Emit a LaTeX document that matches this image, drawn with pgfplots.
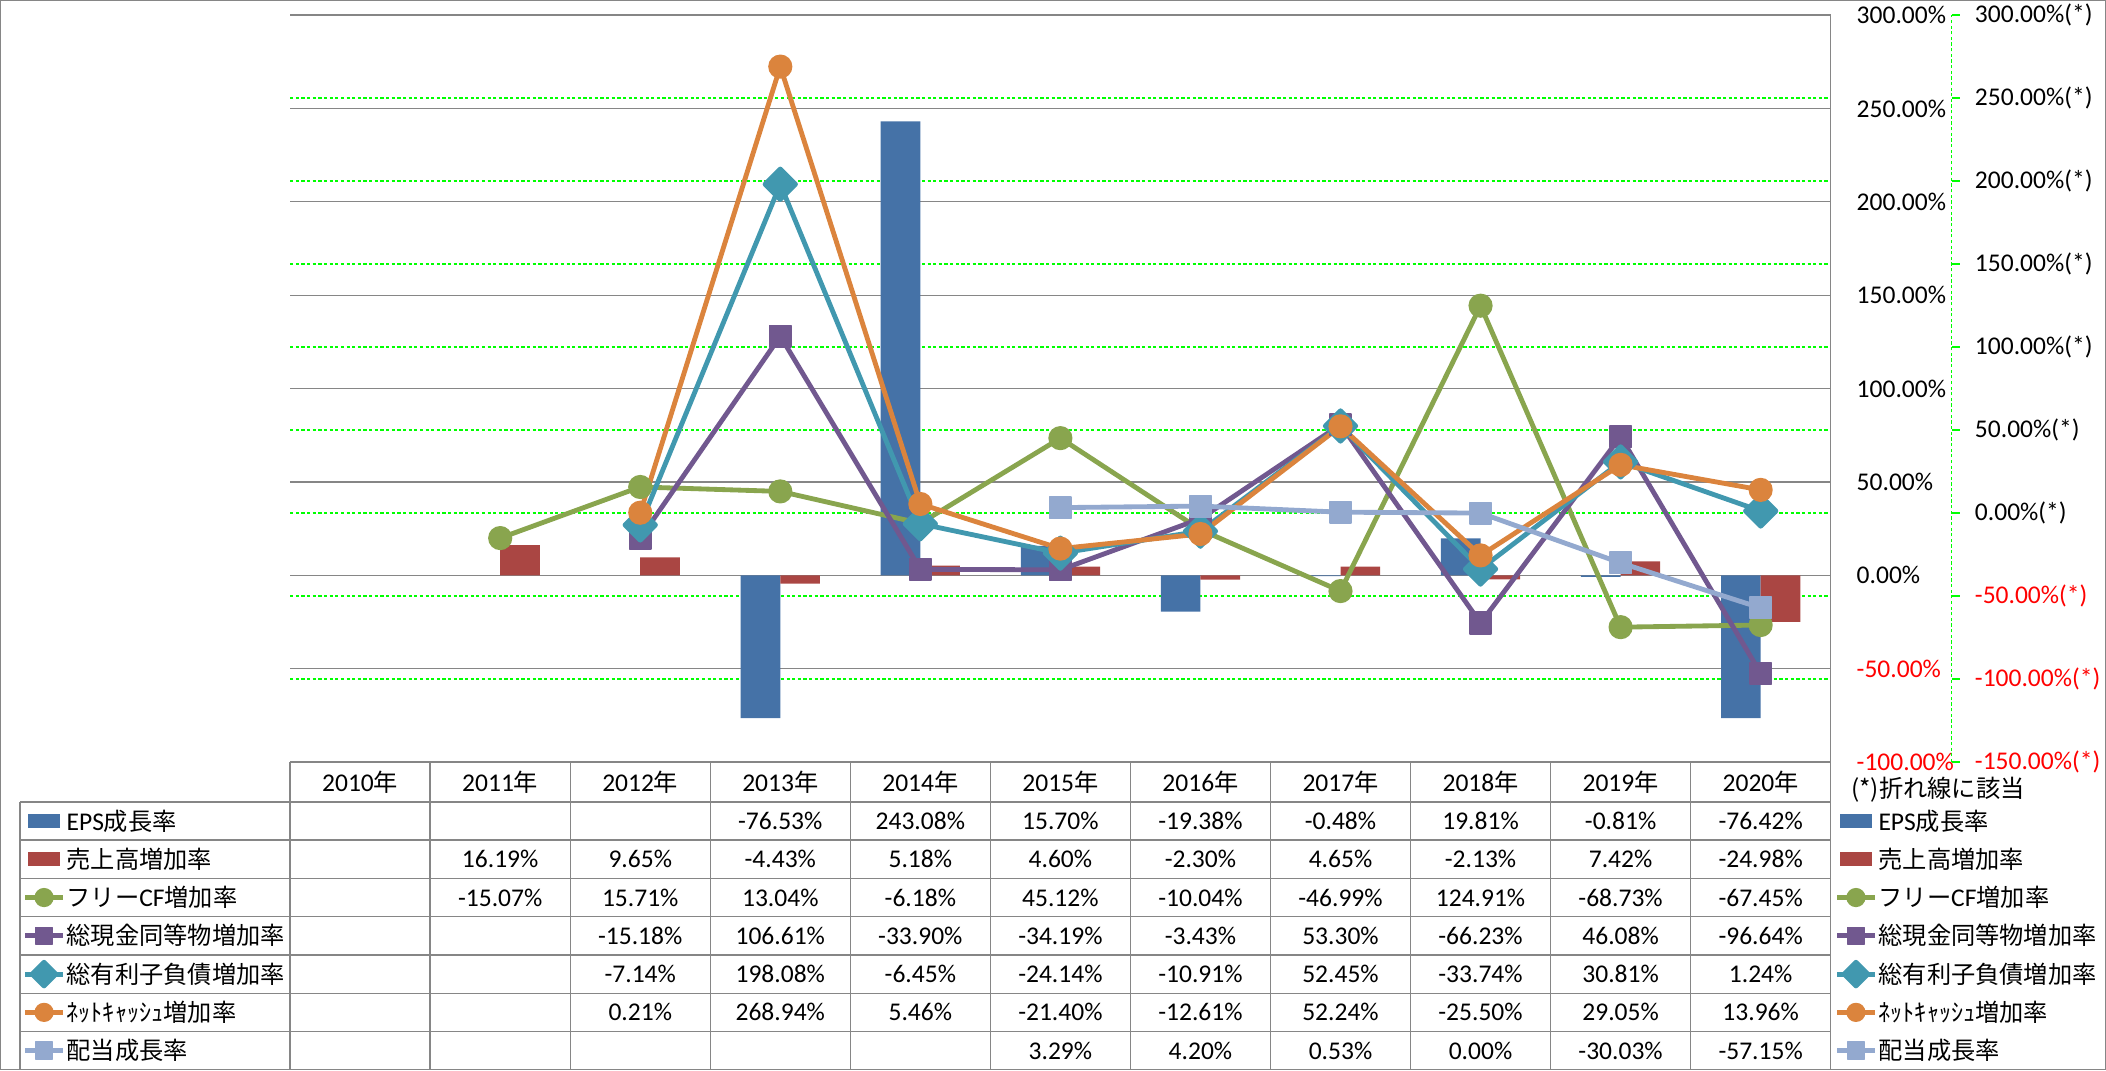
\documentclass[border=0pt]{standalone}
\usepackage{pgfplots}
\pgfplotsset{compat=1.18}
\usepackage{fontspec}
\setmainfont{Carlito}
\newfontfamily\jp[Scale=0.95]{Noto Sans CJK JP}
\definecolor{cEPS}{HTML}{4572A7}
\definecolor{cSales}{HTML}{AA4643}
\definecolor{cFCF}{HTML}{89A54E}
\definecolor{cCash}{HTML}{71588F}
\definecolor{cDebt}{HTML}{4198AF}
\definecolor{cNet}{HTML}{DB843D}
\definecolor{cDiv}{HTML}{93A9CF}
\definecolor{gridgray}{HTML}{868686}
\definecolor{tgreen}{HTML}{00FF00}
\definecolor{tred}{HTML}{FF0000}
\newcommand\ff{\fontsize{9.5pt}{11.4pt}\selectfont}
\pgfplotsset{
  base/.style={scale only axis, width=573.5pt, height=278.1pt, at={(108pt,114.8pt)}, anchor=south west, xmin=-0.5, xmax=10.5, tick label style={font=\ff}},
  barleg/.style={legend image code/.code={\fill[##1, draw=none] (1pt,-2.6pt) rectangle (13pt,2.6pt);}},
  sline/.style={line width=1.8pt, line join=round, mark options={solid, line width=0.6pt, line join=round}},
  sFCF/.style={sline, color=cFCF, mark=*, mark size=4.2pt},
  sCash/.style={sline, color=cCash, mark=square*, mark size=4.0pt},
  sDebt/.style={sline, color=cDebt, mark=square*, mark size=4.0pt, mark options={rotate=45}},
  sNet/.style={sline, color=cNet, mark=*, mark size=4.2pt},
  sDiv/.style={sline, color=cDiv, mark=square*, mark size=4.0pt},
  legstyle/.style={legend style={anchor=north west, draw=none, fill=none, inner sep=0pt, outer sep=0pt, row sep=0pt, column sep=0.5pt, font=\ff, nodes={inner sep=0pt, text height=10.5pt, text depth=3.75pt}}, legend cell align=left,
     legend image code/.code={\draw[mark repeat=2,mark phase=2,##1, every mark/.append style={scale=0.78}] plot coordinates {(0pt,0pt) (7pt,0pt) (14pt,0pt)};}},
}
\begin{document}
\begin{tikzpicture}[font=\ff]
% green secondary grid (background)
\begin{axis}[base, ymin=-150, ymax=300, ytick={-100,-50,...,250}, yticklabels={,,,,,,,,,}, xtick=\empty, major tick length=0pt,
  axis line style={draw=none}, ymajorgrids, major grid style={tgreen, dash pattern=on 1.2pt off 0.9pt, line width=0.45pt}]
\end{axis}
% primary axis with bars
\begin{axis}[base, ymin=-100, ymax=300, ytick={-100,-50,...,300},
  yticklabels={\textcolor{tred}{-100.00\%},\textcolor{tred}{-50.00\%},0.00\%,50.00\%,100.00\%,150.00\%,200.00\%,250.00\%,300.00\%},
  axis x line=none, axis y line*=right, y axis line style={gridgray, line width=0.5pt},
  major tick length=0pt,
  yticklabel style={anchor=west, inner sep=0pt, xshift=9.5pt},
  ymajorgrids, major grid style={gridgray, line width=0.5pt},
  ybar=0pt, bar width=14.75pt]
\addplot[fill=cEPS, draw=none] coordinates {(3,-76.53) (4,243.08) (5,15.70) (6,-19.38) (7,-0.48) (8,19.81) (9,-0.81) (10,-76.42)};
\addplot[fill=cSales, draw=none] coordinates {(1,16.19) (2,9.65) (3,-4.43) (4,5.18) (5,4.60) (6,-2.30) (7,4.65) (8,-2.13) (9,7.42) (10,-24.98)};
\end{axis}
% lines on secondary scale
\begin{axis}[base, ymin=-150, ymax=300, hide axis, clip=false, legstyle,
  legend style={at={(axis description cs:1.00262,-0.05322)}}]
\addlegendimage{barleg, fill=cEPS}\addlegendentry{EPS{\jp 成長率}}
\addlegendimage{barleg, fill=cSales}\addlegendentry{{\jp 売上高増加率}}
\addplot[sFCF] coordinates {(1,-15.07) (2,15.71) (3,13.04) (4,-6.18) (5,45.12) (6,-10.04) (7,-46.99) (8,124.91) (9,-68.73) (10,-67.45)};
\addlegendentry{{\jp フリー}CF{\jp 増加率}}
\addplot[sCash] coordinates {(2,-15.18) (3,106.61) (4,-33.90) (5,-34.19) (6,-3.43) (7,53.30) (8,-66.23) (9,46.08) (10,-96.64)};
\addlegendentry{{\jp 総現金同等物増加率}}
\addplot[sDebt] coordinates {(2,-7.14) (3,198.08) (4,-6.45) (5,-24.14) (6,-10.91) (7,52.45) (8,-33.74) (9,30.81) (10,1.24)};
\addlegendentry{{\jp 総有利子負債増加率}}
\addplot[sNet] coordinates {(2,0.21) (3,268.94) (4,5.46) (5,-21.40) (6,-12.61) (7,52.24) (8,-25.50) (9,29.05) (10,13.96)};
\addlegendentry{{\jp ﾈｯﾄｷｬｯｼｭ増加率}}
\addplot[sDiv] coordinates {(5,3.29) (6,4.20) (7,0.53) (8,0.00) (9,-30.03) (10,-57.15)};
\addlegendentry{{\jp 配当成長率}}
\end{axis}
% secondary scale
\begin{axis}[scale only axis, width=10pt, height=278.1pt, at={(716.5pt,114.8pt)}, anchor=south west,
  xmin=0, xmax=1, ymin=-150, ymax=300,
  axis x line=none, axis y line*=right, y axis line style={tgreen, dash pattern=on 1.2pt off 0.9pt, line width=0.45pt},
  ytick={-150,-100,...,300}, tick align=outside, major tick length=3pt, tick style={tgreen, line width=0.45pt},
  yticklabels={\textcolor{tred}{-150.00\%(*)},\textcolor{tred}{-100.00\%(*)},\textcolor{tred}{-50.00\%(*)},0.00\%(*),50.00\%(*),100.00\%(*),150.00\%(*),200.00\%(*),250.00\%(*),300.00\%(*)},
  yticklabel style={anchor=west, inner sep=0pt, xshift=5.5pt, font=\ff}]
\end{axis}
% legend keys inside the table
\begin{axis}[base, ymin=-150, ymax=300, hide axis, legstyle,
  legend style={at={(axis description cs:-0.17349,-0.05322)}}]
\addlegendimage{barleg, fill=cEPS}\addlegendentry{EPS{\jp 成長率}}
\addlegendimage{barleg, fill=cSales}\addlegendentry{{\jp 売上高増加率}}
\addlegendimage{sFCF}\addlegendentry{{\jp フリー}CF{\jp 増加率}}
\addlegendimage{sCash}\addlegendentry{{\jp 総現金同等物増加率}}
\addlegendimage{sDebt}\addlegendentry{{\jp 総有利子負債増加率}}
\addlegendimage{sNet}\addlegendentry{{\jp ﾈｯﾄｷｬｯｼｭ増加率}}
\addlegendimage{sDiv}\addlegendentry{{\jp 配当成長率}}
\end{axis}
% data table
\begin{scope}[gridgray, line width=0.5pt]
\foreach \y in {100,85.75,71.5,57.25,43,28.75,14.5,0.25} \draw (7.5pt,\y pt) -- (681.5pt,\y pt);
\draw (108pt,114.8pt) -- (681.5pt,114.8pt);
\foreach \k in {0,...,11} \draw ({108pt+\k*52.136pt},114.8pt) -- ({108pt+\k*52.136pt},0.25pt);
\draw (7.5pt,100pt) -- (7.5pt,0.25pt);
\end{scope}
\foreach \i/\t in {0/2010,1/2011,2/2012,3/2013,4/2014,5/2015,6/2016,7/2017,8/2018,9/2019,10/2020}
  \node[inner sep=0pt] at ({134.07pt+\i*52.136pt},107.4pt) {\t{\jp 年}};
\foreach \i/\v in {3/-76.53,4/243.08,5/15.70,6/-19.38,7/-0.48,8/19.81,9/-0.81,10/-76.42}
  \node[inner sep=0pt] at ({134.07pt+\i*52.136pt},92.875pt) {\v\%};
\foreach \i/\v in {1/16.19,2/9.65,3/-4.43,4/5.18,5/4.60,6/-2.30,7/4.65,8/-2.13,9/7.42,10/-24.98}
  \node[inner sep=0pt] at ({134.07pt+\i*52.136pt},78.625pt) {\v\%};
\foreach \i/\v in {1/-15.07,2/15.71,3/13.04,4/-6.18,5/45.12,6/-10.04,7/-46.99,8/124.91,9/-68.73,10/-67.45}
  \node[inner sep=0pt] at ({134.07pt+\i*52.136pt},64.375pt) {\v\%};
\foreach \i/\v in {2/-15.18,3/106.61,4/-33.90,5/-34.19,6/-3.43,7/53.30,8/-66.23,9/46.08,10/-96.64}
  \node[inner sep=0pt] at ({134.07pt+\i*52.136pt},50.125pt) {\v\%};
\foreach \i/\v in {2/-7.14,3/198.08,4/-6.45,5/-24.14,6/-10.91,7/52.45,8/-33.74,9/30.81,10/1.24}
  \node[inner sep=0pt] at ({134.07pt+\i*52.136pt},35.875pt) {\v\%};
\foreach \i/\v in {2/0.21,3/268.94,4/5.46,5/-21.40,6/-12.61,7/52.24,8/-25.50,9/29.05,10/13.96}
  \node[inner sep=0pt] at ({134.07pt+\i*52.136pt},21.625pt) {\v\%};
\foreach \i/\v in {5/3.29,6/4.20,7/0.53,8/0.00,9/-30.03,10/-57.15}
  \node[inner sep=0pt] at ({134.07pt+\i*52.136pt},7.375pt) {\v\%};
\node[anchor=west, inner sep=0pt] at (689pt,104.5pt) {{\jp (*)折れ線に該当}};
\draw[gridgray, line width=0.5pt] (0.25pt,0.25pt) rectangle (783.75pt,398.25pt);
\pgfresetboundingbox
\useasboundingbox (0pt,0pt) rectangle (784pt,398.5pt);
\end{tikzpicture}
\end{document}
